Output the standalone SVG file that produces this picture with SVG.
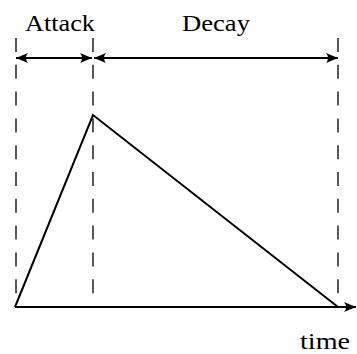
<svg xmlns="http://www.w3.org/2000/svg" width="357" height="354" viewBox="0 0 357 354">
<style>
.dash{stroke:#000;stroke-width:1.3;stroke-dasharray:14 12.8;fill:none}
.ln{stroke:#000;stroke-width:2;fill:none}
.lbl{font-family:"Liberation Serif","DejaVu Serif",serif;font-size:24px;fill:#000;text-anchor:middle}
</style>
<defs>
<marker id="ah" viewBox="0 0 12 10" refX="12" refY="5" markerWidth="12" markerHeight="10" markerUnits="userSpaceOnUse" orient="auto-start-reverse">
<path d="M0,0 Q4,5 0,10 L12,5 Z" fill="#000"/>
</marker>
</defs>
<rect width="357" height="354" fill="#fff"/>
<g id="guides">
<line class="dash" x1="16" y1="38" x2="16" y2="302"/>
<line class="dash" x1="93" y1="38" x2="93" y2="302"/>
<line class="dash" x1="338" y1="38" x2="338" y2="302"/>
</g>
<g id="connectors">
<line class="ln" x1="16" y1="58" x2="92" y2="58" marker-start="url(#ah)" marker-end="url(#ah)"/>
<line class="ln" x1="94" y1="58" x2="338" y2="58" marker-start="url(#ah)" marker-end="url(#ah)"/>
<line class="ln" x1="15" y1="307" x2="356" y2="307" marker-end="url(#ah)"/>
<polyline class="ln" points="15,307 93,115 338,307" stroke-linejoin="miter"/>
</g>
<g id="label-attack"><text class="lbl" x="60" y="31" textLength="70" lengthAdjust="spacingAndGlyphs">Attack</text></g>
<g id="label-decay"><text class="lbl" x="216" y="31" textLength="68" lengthAdjust="spacingAndGlyphs">Decay</text></g>
<g id="label-time"><text class="lbl" x="325" y="349" textLength="50" lengthAdjust="spacingAndGlyphs">time</text></g>
</svg>
